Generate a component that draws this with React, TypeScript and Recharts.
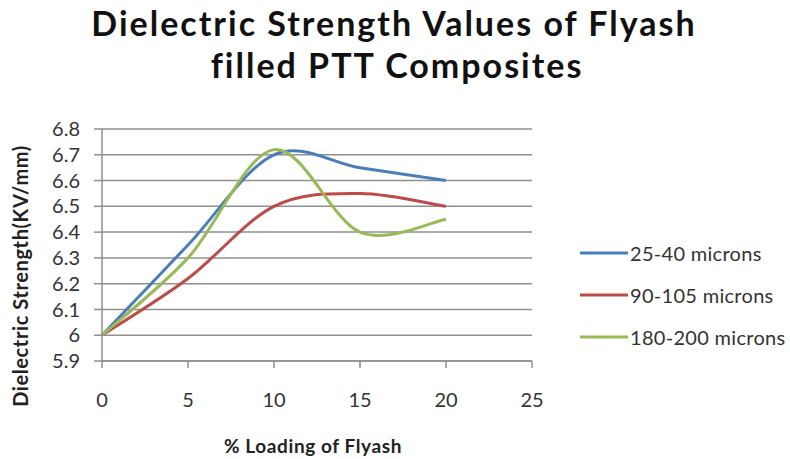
import React from "react";
import {
  LineChart,
  Line,
  XAxis,
  YAxis,
  CartesianGrid,
  Legend,
} from "recharts";

const LOADING = [0, 5, 10, 15, 20];
const MICRONS_25_40 = [6.0, 6.35, 6.7, 6.65, 6.6];
const MICRONS_90_105 = [6.0, 6.22, 6.5, 6.55, 6.5];
const MICRONS_180_200 = [6.0, 6.3, 6.72, 6.4, 6.45];

const SERIES_NAMES = ["25-40 microns", "90-105 microns", "180-200 microns"];
const X_TICKS = [0, 5, 10, 15, 20, 25];
const Y_TICKS = [5.9, 6, 6.1, 6.2, 6.3, 6.4, 6.5, 6.6, 6.7, 6.8];

const COLORS = ["#4a7ebb", "#be4b48", "#98b954"];
const GRID = "#8f8f8f";
const FONT = "Lato, 'Open Sans', sans-serif";

const data = LOADING.map((x, i) => ({
  x,
  a: MICRONS_25_40[i],
  b: MICRONS_90_105[i],
  c: MICRONS_180_200[i],
}));

// Excel style smoothed line (catmull-rom like bezier through every point)
function excelSmooth(context: any) {
  let xs: number[] = [];
  let ys: number[] = [];
  return {
    areaStart() {},
    areaEnd() {},
    lineStart() {
      xs = [];
      ys = [];
    },
    lineEnd() {
      const n = xs.length;
      if (!n) return;
      context.moveTo(xs[0], ys[0]);
      for (let i = 0; i < n - 1; i++) {
        const i0 = Math.max(i - 1, 0);
        const i3 = Math.min(i + 2, n - 1);
        context.bezierCurveTo(
          xs[i] + (xs[i + 1] - xs[i0]) / 6,
          ys[i] + (ys[i + 1] - ys[i0]) / 6,
          xs[i + 1] - (xs[i3] - xs[i]) / 6,
          ys[i + 1] - (ys[i3] - ys[i]) / 6,
          xs[i + 1],
          ys[i + 1]
        );
      }
    },
    point(x: number, y: number) {
      xs.push(+x);
      ys.push(+y);
    },
  };
}

const renderLegend = (props: any) => {
  // keep the series order, not alphabetical
  const items = [...props.payload].sort(
    (p: any, q: any) => SERIES_NAMES.indexOf(p.value) - SERIES_NAMES.indexOf(q.value)
  );
  return (
    <div style={{ fontFamily: FONT }}>
      {items.map((entry: any) => (
        <div
          key={entry.value}
          style={{ display: "flex", alignItems: "center", height: 42 }}
        >
          <svg width={48} height={4}>
            <line x1={0} y1={2} x2={48} y2={2} stroke={entry.color} strokeWidth={3} />
          </svg>
          <span
            style={{
              marginLeft: 2,
              fontSize: 20,
              letterSpacing: 0.3,
              color: "#333",
              whiteSpace: "nowrap",
            }}
          >
            {entry.value}
          </span>
        </div>
      ))}
    </div>
  );
};

const yTitle = () => (
  <text
    x={20}
    y={276}
    transform="rotate(-90, 20, 276)"
    textAnchor="middle"
    dominantBaseline="central"
    fontFamily={FONT}
    fontWeight={700}
    fontSize={20}
    letterSpacing={0.6}
    fill="#222"
  >
    Dielectric Strength(KV/mm)
  </text>
);

const xTitle = () => (
  <text
    x={313}
    y={445}
    textAnchor="middle"
    dominantBaseline="central"
    fontFamily={FONT}
    fontWeight={700}
    fontSize={19}
    letterSpacing={0.6}
    fill="#222"
  >
    % Loading of Flyash
  </text>
);

export default function App() {
  const tick = { fontFamily: FONT, fontSize: 20, fill: "#333" };
  const titleStyle = {
    fontFamily: FONT,
    fontWeight: 700,
    fontSize: 34,
    letterSpacing: 2,
    fill: "#111",
  };

  return (
    <div
      style={{
        position: "absolute",
        left: 0,
        top: 0,
        width: 790,
        height: 459,
        background: "#fff",
      }}
    >
      <svg
        width={790}
        height={110}
        style={{ position: "absolute", left: 0, top: 0 }}
      >
        <text x={394} y={36} textAnchor="middle" {...titleStyle}>
          Dielectric Strength Values of Flyash
        </text>
        <text x={397} y={78} textAnchor="middle" {...titleStyle}>
          filled PTT Composites
        </text>
      </svg>

      <LineChart
        width={790}
        height={459}
        data={data}
        margin={{ top: 129, right: 48, bottom: 0, left: 40 }}
      >
        <CartesianGrid vertical={false} stroke={GRID} strokeWidth={1.5} />
        <XAxis
          dataKey="x"
          type="number"
          domain={[0, 25]}
          ticks={X_TICKS}
          height={98}
          tick={tick}
          tickSize={7}
          tickMargin={25}
          axisLine={{ stroke: GRID, strokeWidth: 1.5 }}
          tickLine={{ stroke: GRID, strokeWidth: 1.5 }}
          label={{ content: xTitle }}
        />
        <YAxis
          type="number"
          domain={[5.9, 6.8]}
          ticks={Y_TICKS}
          width={62}
          tick={tick}
          tickSize={8}
          tickMargin={14}
          interval={0}
          tickFormatter={(v: number) => String(Number(v.toFixed(1)))}
          axisLine={{ stroke: GRID, strokeWidth: 1.5 }}
          tickLine={{ stroke: GRID, strokeWidth: 1.5 }}
          label={{ content: yTitle }}
        />
        <Legend
          layout="vertical"
          align="right"
          verticalAlign="middle"
          width={210}
          content={renderLegend}
          wrapperStyle={{ left: 580, top: 232 }}
        />
        <Line
          dataKey="a"
          name={SERIES_NAMES[0]}
          type={excelSmooth as any}
          stroke={COLORS[0]}
          strokeWidth={3}
          dot={false}
          isAnimationActive={false}
        />
        <Line
          dataKey="b"
          name={SERIES_NAMES[1]}
          type={excelSmooth as any}
          stroke={COLORS[1]}
          strokeWidth={3}
          dot={false}
          isAnimationActive={false}
        />
        <Line
          dataKey="c"
          name={SERIES_NAMES[2]}
          type={excelSmooth as any}
          stroke={COLORS[2]}
          strokeWidth={3}
          dot={false}
          isAnimationActive={false}
        />
      </LineChart>
    </div>
  );
}
